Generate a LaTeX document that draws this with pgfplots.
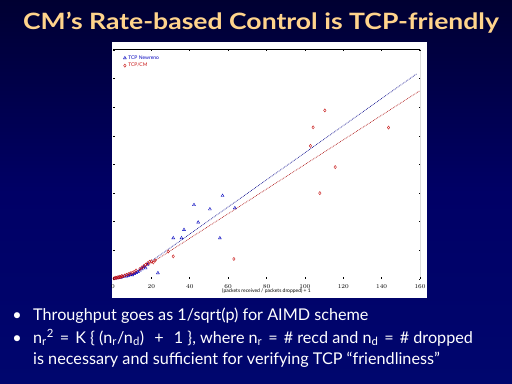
\documentclass[border=0pt]{standalone}
\usepackage{pgfplots}
\pgfplotsset{compat=1.18}
\usepackage{fontspec}
\setmainfont{Lato}
\definecolor{titlecol}{RGB}{255,212,140}
\definecolor{bgtop}{RGB}{0,0,50}
\definecolor{bgmid}{RGB}{0,0,102}
\definecolor{bgbot}{RGB}{0,6,110}
\definecolor{renoblue}{RGB}{0,0,190}
\definecolor{cmred}{RGB}{200,20,20}
\definecolor{fitblue}{RGB}{10,10,140}
\definecolor{fitred}{RGB}{175,20,20}

\pgfplotstableread{
x y
1 0.02
2 0.03
3 0.05
4 0.04
5 0.08
6 0.10
7 0.09
8 0.12
9 0.15
10 0.14
11 0.18
12 0.22
13 0.25
14 0.30
15 0.35
16 0.42
17 0.38
18 0.50
23.4 0.21
31.4 1.43
35.7 1.43
37.0 1.72
44.4 1.98
42.2 2.59
50.5 2.44
57.1 2.91
63.5 2.48
55.7 1.43
}\reno

\pgfplotstableread{
x y
0.5 0.02
1 0.03
1.5 0.05
2 0.04
2.5 0.06
3 0.05
3.5 0.08
4 0.07
4.5 0.10
5 0.09
6 0.12
7 0.15
8 0.17
9 0.20
10 0.22
11 0.25
12 0.30
14 0.35
15 0.40
16 0.45
17 0.50
18 0.55
19 0.60
20 0.62
21 0.58
22 0.65
28.8 0.96
31.4 0.79
63.0 0.70
102.9 4.65
104.3 5.30
107.8 3.00
110.4 5.89
115.8 3.91
143.6 5.29
}\cm

\newcommand{\eqsp}{\hspace{6bp}=\hspace{6bp}}
\begin{document}
\begin{tikzpicture}
\useasboundingbox (0,0) rectangle (512bp,384bp);
\shade[top color=bgtop, bottom color=bgbot, middle color=bgmid] (0,0) rectangle (512bp,384bp);
\fill[white] (112bp,86bp) rectangle (427bp,342bp);
\node[anchor=base, inner sep=0, text=titlecol, font=\fontsize{22.5bp}{26bp}\selectfont\bfseries] at (261bp,354.7bp) {\scalebox{1.18}[1]{CM’s Rate-based Control is TCP-friendly}};

\begin{scope}[every node/.style={inner sep=0, text=white, font=\fontsize{16.2bp}{20bp}\selectfont}]
\node[anchor=base] at (17bp,63.3bp) {\textbullet};
\node[anchor=base west] at (33bp,63.3bp) {Throughput goes as 1/sqrt(p) for AIMD scheme};
\node[anchor=base] at (17bp,40.7bp) {\textbullet};
\node[anchor=base west] at (33bp,40.7bp) {n\textsubscript{r}\textsuperscript{2}\eqsp K \{ (n\textsubscript{r}/n\textsubscript{d}) \hspace{6bp}+\hspace{6bp} 1 \}, where n\textsubscript{r}\eqsp\# recd and n\textsubscript{d}\eqsp\# dropped};
\node[anchor=base west] at (33bp,20bp) {is necessary and sufficient for verifying TCP “friendliness”};
\end{scope}

\begin{axis}[
  at={(113bp,105bp)}, anchor=south west,
  scale only axis, width=307bp, height=229bp,
  xmin=0, xmax=160, ymin=0, ymax=8,
  axis line style={draw=none},
  xtick={0,20,...,160}, ytick={0,1,...,8}, yticklabels={},
  tick style={black, line width=0.6pt}, major tick length=1.5bp,
  tick label style={font=\fontsize{5.5bp}{6bp}\selectfont},
  xticklabel style={yshift=-2bp},
  xlabel={(packets received / packets dropped) + 1},
  xlabel style={font=\fontsize{5bp}{6bp}\selectfont, yshift=7bp},
  legend style={at={(rel axis cs:0.03,0.99)}, anchor=north west, draw=none, fill=none,
    font=\fontsize{5bp}{6bp}\selectfont, row sep=-1.5pt, inner sep=1pt},
  legend cell align=left,
]
\addplot[only marks, mark=triangle, mark size=1.7bp, draw=renoblue, line width=0.4pt] table {\reno};
\addlegendentry{\textcolor{renoblue}{TCP Newreno}}
\addplot[only marks, mark=diamond, mark size=1.6bp, draw=cmred, line width=0.4pt] table {\cm};
\addlegendentry{\textcolor{cmred}{TCP/CM}}
\addplot[fitblue, densely dotted, line width=0.7pt, forget plot] coordinates {(10,0.15) (158.3,7.17)};
\addplot[fitred, densely dotted, line width=0.7pt, forget plot] coordinates {(10,0.13) (160,6.58)};
\draw[black, line width=1pt] (rel axis cs:0,1) -- (rel axis cs:1,1) -- (rel axis cs:1,0);
\end{axis}
\end{tikzpicture}
\end{document}
